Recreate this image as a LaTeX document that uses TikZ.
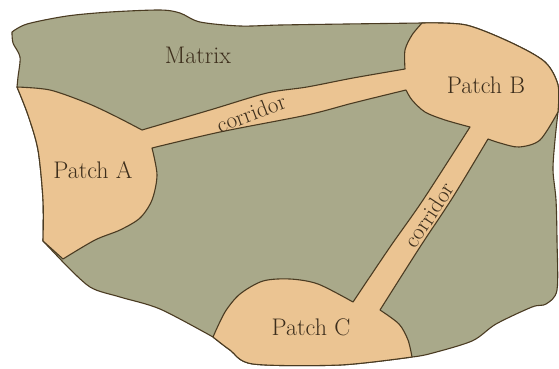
\documentclass[tikz,border=0pt]{standalone}
\usepackage{xcolor}
\definecolor{matrixgreen}{HTML}{A9A98A}
\definecolor{patchtan}{HTML}{EBC492}
\definecolor{edgebrown}{HTML}{4A3B22}
\definecolor{inkbrown}{HTML}{3D2E1C}
\begin{document}
\begin{tikzpicture}[x=1pt,y=-1pt,
  region/.style={draw=edgebrown,line width=1.1pt,line join=round},
  maplabel/.style={text=inkbrown,font=\fontsize{24}{28}\selectfont,inner sep=0pt},
  corrlabel/.style={text=inkbrown,font=\fontsize{23}{27}\selectfont,inner sep=0pt}]
\clip (0,0) rectangle (559,368);
\fill[white] (0,0) rectangle (559,368);

% matrix (whole landscape)
\draw[region,fill=matrixgreen]
  plot[smooth] coordinates {(12,32) (27,24) (67,16) (110,12) (160,10) (180,13) (200,22) (240,26) (280,25) (346,24) (422,23)}
  -- plot[smooth] coordinates {(422,23) (466,25) (512,43) (545,62) (558,85) (558,112)}
  -- plot[smooth] coordinates {(558,112) (555,140) (553,170) (556,200) (557,240) (557,290) (546,304) (532,307) (496,324) (472,341) (429,354) (412,357)}
  -- plot[smooth] coordinates {(412,357) (340,365) (253,364) (230,350) (213,337)}
  -- plot[smooth] coordinates {(213,337) (160,309) (120,297) (90,287) (62,261)}
  -- (43,241)
  -- plot[smooth] coordinates {(43,241) (43,200) (38,150) (28,115) (17,87)}
  -- plot[smooth] coordinates {(17,87) (18,77) (20,57) (13,43) (12,32)}
  -- cycle;

% patches and corridors
\draw[region,fill=patchtan]
  plot[smooth] coordinates {(17,87) (50,90) (87,103) (115,116) (142,130)}
  -- plot[smooth] coordinates {(142,130) (210,110) (267,93) (307,87) (353,78) (405,69)}
  -- plot[smooth] coordinates {(405,69) (405,50) (412,35) (422,23)}
  -- plot[smooth] coordinates {(422,23) (466,25) (512,43) (545,62) (558,85) (558,112)}
  -- plot[smooth] coordinates {(558,112) (540,140) (519,147) (500,143) (488,139)}
  -- plot[smooth] coordinates {(488,139) (453,197) (420,247) (380,310)}
  -- plot[smooth] coordinates {(380,310) (399,324) (408,340) (412,357)}
  -- plot[smooth] coordinates {(412,357) (340,365) (253,364) (230,350) (213,337)}
  -- plot[smooth] coordinates {(213,337) (225,312) (240,294) (263,281) (290,279) (318,284) (353,302)}
  -- plot[smooth] coordinates {(353,302) (390,247) (423,200) (470,127)}
  -- plot[smooth] coordinates {(470,127) (445,120) (425,112) (412,100) (406,90)}
  -- plot[smooth] coordinates {(406,90) (353,103) (307,115) (220,132) (152,148)}
  -- plot[smooth] coordinates {(152,148) (157,175) (152,200) (140,218) (120,230) (95,240) (63,259)}
  -- (43,241)
  -- plot[smooth] coordinates {(43,241) (43,200) (38,150) (28,115) (17,87)}
  -- cycle;

\node[maplabel] (matrix) at (198,55) {Matrix};
\node[maplabel] (patchA) at (93,170) {Patch A};
\node[maplabel] (patchB) at (486,85) {Patch B};
\node[maplabel] (patchC) at (311,327) {Patch C};
\node[corrlabel,rotate=21] (corrAB) at (251,113) {corridor};
\node[corrlabel,rotate=57] (corrBC) at (429,215) {corridor};
\end{tikzpicture}
\end{document}
